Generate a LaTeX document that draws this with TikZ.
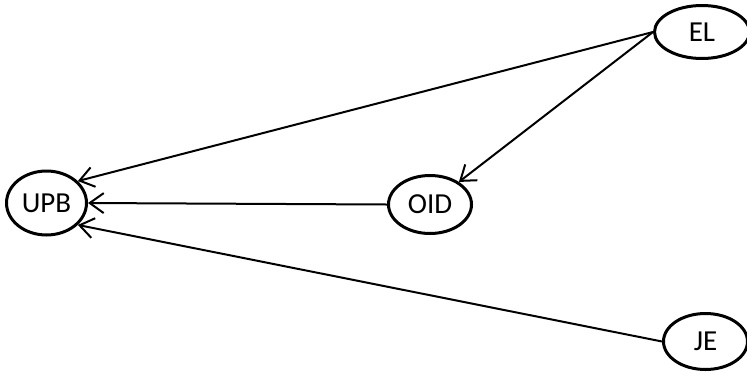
\documentclass[tikz,border=0pt]{standalone}
\usepackage{fontspec}
\setmainfont{Carlito}
\usetikzlibrary{arrows.meta,shapes.geometric}
\begin{document}
\begin{tikzpicture}[x=1pt,y=-1pt,
  ent/.style={draw, ellipse, line width=3pt, inner sep=0pt, font=\fontsize{29}{32}\selectfont},
  link/.style={line width=2pt, -{Straight Barb[length=14pt,width=20pt,line width=2pt]}}]
\useasboundingbox (0,0) rectangle (747,373);
\node[ent, minimum width=80pt, minimum height=64pt] (upb) at (46.5,203) {UPB};
\node[ent, minimum width=83pt, minimum height=58pt] (oid) at (430,204.5) {OID};
\node[ent, minimum width=95pt, minimum height=53pt] (el) at (702,32) {EL};
\node[ent, minimum width=84pt, minimum height=56pt] (je) at (705.5,341.5) {JE};
\draw[link] (el.west) -- (upb.35);
\draw[link] (el.west) -- (oid.38);
\draw[link] (oid.west) -- (upb.east);
\draw[link] (je.west) -- (upb.-35);
\end{tikzpicture}
\end{document}
